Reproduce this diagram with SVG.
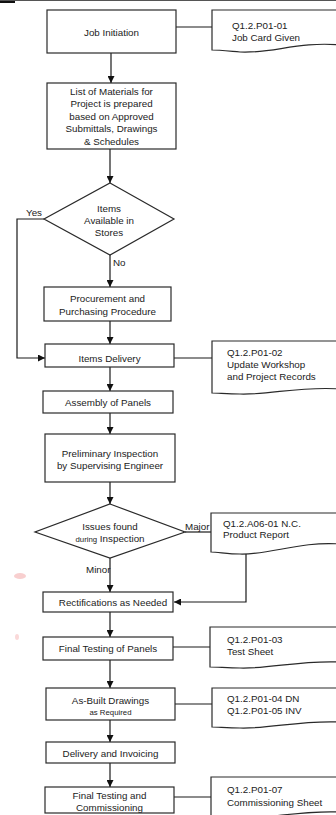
<svg xmlns="http://www.w3.org/2000/svg" width="336" height="815" viewBox="0 0 336 815">
<style>
.box{fill:#fff;stroke:#2a2a2a;stroke-width:1.2}
.doc{fill:#fff;stroke:#2a2a2a;stroke-width:1.2}
.ln{fill:none;stroke:#1a1a1a;stroke-width:1.2}
text{font-family:"Liberation Sans",Arial,sans-serif;font-size:9.8px;fill:#222}
.c{text-anchor:middle}
.s{font-size:7.8px}
</style>
<defs>
<marker id="ah" viewBox="0 0 10 10" refX="10" refY="5" markerWidth="7" markerHeight="7" markerUnits="userSpaceOnUse" orient="auto">
<path d="M0,0 L10,5 L0,10 z" fill="#111"/>
</marker>
</defs>
<rect x="0" y="0" width="15" height="3" fill="#111"/>
<line x1="0" y1="0.5" x2="336" y2="0.5" stroke="#555" stroke-width="1"/>
<ellipse cx="20" cy="576" rx="6" ry="3" fill="#f2a0a0" opacity="0.5"/>
<ellipse cx="17" cy="637" rx="2" ry="3" fill="#f2a0a0" opacity="0.4"/>

<g id="connectors">
<line class="ln" x1="111" y1="53" x2="111" y2="83" marker-end="url(#ah)"/>
<line class="ln" x1="176" y1="27" x2="212" y2="27"/>
<line class="ln" x1="110" y1="149" x2="110" y2="183" marker-end="url(#ah)"/>
<line class="ln" x1="110" y1="255" x2="110" y2="287" marker-end="url(#ah)"/>
<polyline class="ln" points="44,219 17,219 17,358 45,358" marker-end="url(#ah)"/>
<line class="ln" x1="110" y1="321" x2="110" y2="344" marker-end="url(#ah)"/>
<line class="ln" x1="174" y1="358" x2="212" y2="358"/>
<line class="ln" x1="110" y1="367" x2="110" y2="391" marker-end="url(#ah)"/>
<line class="ln" x1="110" y1="413" x2="110" y2="434" marker-end="url(#ah)"/>
<line class="ln" x1="110" y1="482" x2="110" y2="504" marker-end="url(#ah)"/>
<line class="ln" x1="185" y1="532" x2="211" y2="532"/>
<polyline class="ln" points="246,554 246,602 174,602" marker-end="url(#ah)"/>
<line class="ln" x1="110" y1="558" x2="110" y2="592" marker-end="url(#ah)"/>
<line class="ln" x1="110" y1="612" x2="110" y2="637" marker-end="url(#ah)"/>
<line class="ln" x1="173" y1="647" x2="210" y2="647"/>
<line class="ln" x1="110" y1="660" x2="110" y2="688" marker-end="url(#ah)"/>
<line class="ln" x1="175" y1="704" x2="212" y2="704"/>
<line class="ln" x1="110" y1="720" x2="110" y2="742" marker-end="url(#ah)"/>
<line class="ln" x1="110" y1="763" x2="110" y2="787" marker-end="url(#ah)"/>
<line class="ln" x1="174" y1="797" x2="211" y2="797"/>
<text x="26" y="216">Yes</text>
<text x="113" y="265.5">No</text>
<text x="185" y="529.5">Major</text>
<text x="86" y="572.5">Minor</text>
</g>

<g id="job-initiation">
<rect class="box" x="47" y="10" width="129" height="43"/>
<text class="c" x="111.5" y="35.5">Job Initiation</text>
</g>
<g id="doc-p01-01">
<path class="doc" d="M212,10 H340 V45 C300,41 270,54 240,52 C228,51 218,50 212,50 Z"/>
<text x="232" y="28.5">Q1.2.P01-01</text>
<text x="232" y="40.5">Job Card Given</text>
</g>
<g id="list-materials">
<rect class="box" x="47" y="83" width="129" height="66"/>
<text class="c" x="111.5" y="94.5">List of Materials for</text>
<text class="c" x="111.5" y="107">Project is prepared</text>
<text class="c" x="111.5" y="119.5">based on Approved</text>
<text class="c" x="111.5" y="132">Submittals, Drawings</text>
<text class="c" x="111.5" y="144.5">&amp; Schedules</text>
</g>
<g id="items-available">
<polygon class="box" points="110,183 174,219 110,255 44,219"/>
<text class="c" x="109" y="211.5">Items</text>
<text class="c" x="109" y="223.5">Available in</text>
<text class="c" x="109" y="235.5">Stores</text>
</g>
<g id="procurement">
<rect class="box" x="44" y="287" width="127" height="34"/>
<text class="c" x="107.5" y="301.5">Procurement and</text>
<text class="c" x="107.5" y="314.5">Purchasing Procedure</text>
</g>
<g id="items-delivery">
<rect class="box" x="45" y="344" width="129" height="23"/>
<text class="c" x="109.5" y="361.5">Items Delivery</text>
</g>
<g id="doc-p01-02">
<path class="doc" d="M212,341 H340 V389 C300,386 270,395 240,394 C228,394 218,393 212,393 Z"/>
<text x="227" y="355.5">Q1.2.P01-02</text>
<text x="227" y="367.5">Update Workshop</text>
<text x="227" y="379.5">and Project Records</text>
</g>
<g id="assembly">
<rect class="box" x="43" y="391" width="130" height="22"/>
<text class="c" x="108" y="405.5">Assembly of Panels</text>
</g>
<g id="preliminary-inspection">
<rect class="box" x="45" y="434" width="130" height="48"/>
<text class="c" x="110" y="456.5">Preliminary Inspection</text>
<text class="c" x="110" y="468.5">by Supervising Engineer</text>
</g>
<g id="issues-found">
<polygon class="box" points="110,504 185,532 110,558 35,532"/>
<text class="c" x="110" y="529.5">Issues found</text>
<text class="c" x="110" y="541.5"><tspan class="s">during</tspan> Inspection</text>
</g>
<g id="doc-a06-01">
<path class="doc" d="M211,513 H340 V544 C300,541 270,555 240,554 C228,554 218,552 211,552 Z"/>
<text x="223" y="526.5">Q1.2.A06-01 N.C.</text>
<text x="223" y="537.5">Product Report</text>
</g>
<g id="rectifications">
<rect class="box" x="43" y="592" width="130" height="20"/>
<text class="c" x="113" y="605.5">Rectifications as Needed</text>
</g>
<g id="final-testing">
<rect class="box" x="43" y="637" width="130" height="23"/>
<text class="c" x="108" y="651.5">Final Testing of Panels</text>
</g>
<g id="doc-p01-03">
<path class="doc" d="M210,627 H340 V662 C300,660 270,669 240,668 C228,668 218,667 210,667 Z"/>
<text x="227" y="642.5">Q1.2.P01-03</text>
<text x="227" y="654.5">Test Sheet</text>
</g>
<g id="as-built">
<rect class="box" x="46" y="688" width="129" height="32"/>
<text class="c" x="110.5" y="703.5">As-Built Drawings</text>
<text class="c s" x="110.5" y="714.5">as Required</text>
</g>
<g id="doc-p01-04">
<path class="doc" d="M212,688 H340 V722 C300,720 270,729 240,728 C228,728 218,727 212,727 Z"/>
<text x="227" y="701.5">Q1.2.P01-04 DN</text>
<text x="227" y="713.5">Q1.2.P01-05 INV</text>
</g>
<g id="delivery-invoicing">
<rect class="box" x="46" y="742" width="129" height="21"/>
<text class="c" x="110.5" y="756.5">Delivery and Invoicing</text>
</g>
<g id="final-commissioning">
<rect class="box" x="45" y="787" width="129" height="26"/>
<text class="c" x="109.5" y="798.5">Final Testing and</text>
<text class="c" x="109.5" y="810.5">Commissioning</text>
</g>
<g id="doc-p01-07">
<path class="doc" d="M211,777 H340 V812 C300,810 270,819 240,818 C228,818 218,817 211,817 Z"/>
<text x="227" y="792.5">Q1.2.P01-07</text>
<text x="227" y="805.5">Commissioning Sheet</text>
</g>
</svg>
